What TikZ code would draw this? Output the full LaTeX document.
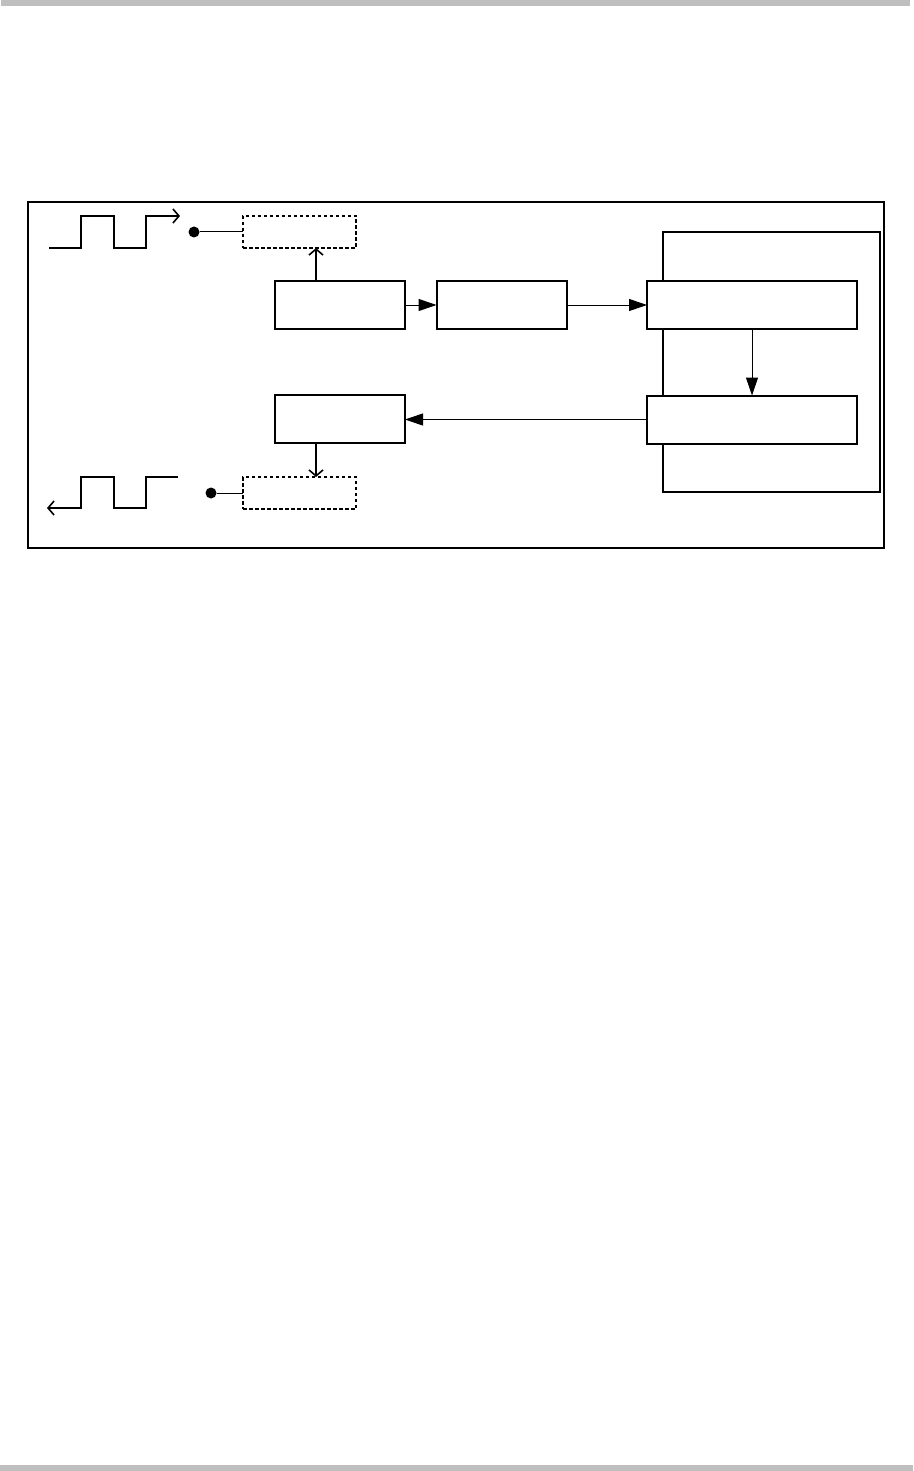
\documentclass[tikz,border=0pt]{standalone}
\usetikzlibrary{arrows.meta}
\begin{document}
\begin{tikzpicture}[x=1pt,y=-1pt,
  blk/.style={draw,line width=2pt,fill=white,minimum width=130pt,minimum height=48pt,inner sep=0pt,outer sep=0pt},
  wblk/.style={blk,minimum width=210pt},
  dbox/.style={draw,line width=1.5pt,dash pattern=on 3.5pt off 2.5pt,minimum width=113pt,minimum height=32pt,inner sep=0pt,outer sep=0pt},
  wire/.style={line width=1pt},
  farrow/.style={wire,-{Triangle[length=18pt,width=12pt]}},
  oarrow/.style={line width=1.6pt,-{Straight Barb[length=6pt,width=14pt,line width=1.6pt]}},
  wave/.style={line width=2pt},
  dotc/.style={circle,fill=black,minimum size=11pt,inner sep=0pt,outer sep=0pt}]
\useasboundingbox (0,0) rectangle (913,1471);
\fill[gray!50] (1,0) rectangle (910,6);
\fill[gray!50] (0,1465) rectangle (913,1471);
% outer frame
\draw[line width=1.3pt] (28,202) rectangle (884,548);
% container
\draw[line width=2pt] (663,232) rectangle (880,492);
% blocks
\node[blk] (b1) at (340,305) {};
\node[blk] (b2) at (501.5,305) {};
\node[wblk] (b3) at (752,305) {};
\node[wblk] (b4) at (752,419.5) {};
\node[blk] (b5) at (340,419) {};
\node[dbox] (d1) at (299.5,232) {};
\node[dbox] (d2) at (299.5,493) {};
\node[dotc] (p1) at (194,232) {};
\node[dotc] (p2) at (211,493) {};
% connectors
\draw[farrow] (b1) -- (b2);
\draw[farrow] (b2) -- (b3);
\draw[farrow] (b3.south) -- (b4.north);
\draw[farrow] (b4.west) -- (b4.west -| b5.east);
\draw[oarrow] (b1.north -| 316,0) -- (d1.south -| 316,0);
\draw[oarrow] (b5.south -| 316,0) -- (d2.north -| 316,0);
\draw[wire] (p1) -- (d1.west);
\draw[wire] (p2) -- (d2.west);
% waves
\coordinate (w1s) at (49,248);
\coordinate (w1e) at (180,216);
\draw[wave] (w1s) -- (81,248) -- (81,216) -- (114,216) -- (114,248) -- (146,248) -- (146,216) -- (170,216);
\draw[oarrow] (168,216) -- (w1e);
\coordinate (w2s) at (178,477);
\coordinate (w2e) at (47,508);
\draw[wave] (w2s) -- (146,477) -- (146,508) -- (114,508) -- (114,477) -- (81,477) -- (81,508) -- (58,508);
\draw[oarrow] (60,508) -- (w2e);
\end{tikzpicture}
\end{document}
